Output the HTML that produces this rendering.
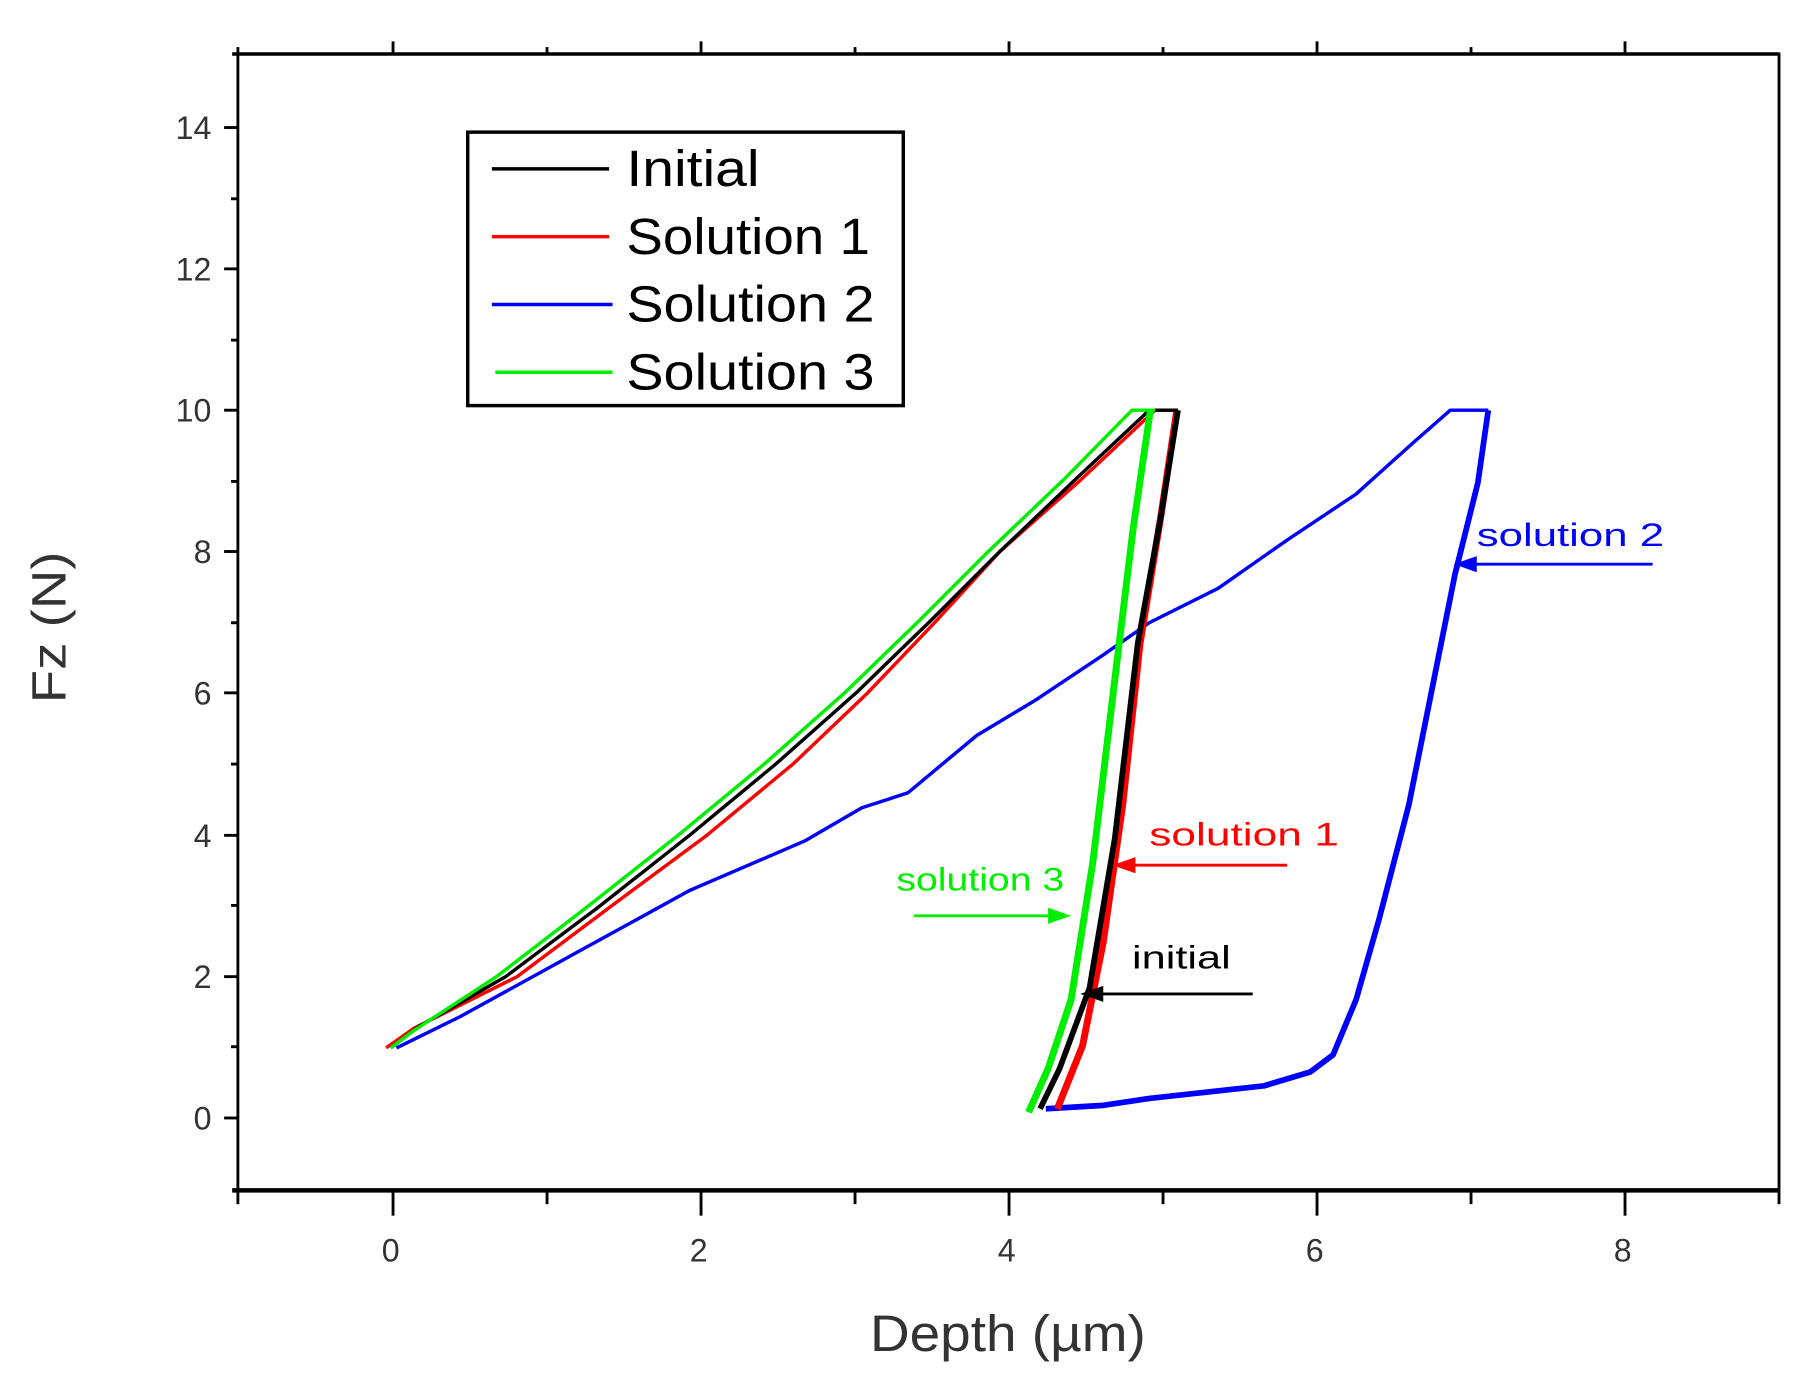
<!DOCTYPE html>
<html><head><style>html,body{margin:0;padding:0;background:#fff}svg{display:block}</style></head><body>
<svg width="1802" height="1388" viewBox="0 0 1568 1208" preserveAspectRatio="none" xmlns="http://www.w3.org/2000/svg" font-family="Liberation Sans, sans-serif">
<rect x="0" y="0" width="1568" height="1208" fill="#fff"/>
<g stroke="#000" stroke-width="3" fill="none">
<rect x="207" y="47" width="1341" height="989" stroke-width="2.5"/>
<line x1="202" y1="1036" x2="1548" y2="1036" stroke-width="4"/>
<line x1="202" y1="47" x2="1548" y2="47"/>
</g>
<g stroke="#000" stroke-width="2.5">
<line x1="207" y1="1036" x2="207" y2="1048"/><line x1="342" y1="1036" x2="342" y2="1058"/><line x1="476" y1="1036" x2="476" y2="1048"/><line x1="610" y1="1036" x2="610" y2="1058"/><line x1="744" y1="1036" x2="744" y2="1048"/><line x1="878" y1="1036" x2="878" y2="1058"/><line x1="1012" y1="1036" x2="1012" y2="1048"/><line x1="1146" y1="1036" x2="1146" y2="1058"/><line x1="1280" y1="1036" x2="1280" y2="1048"/><line x1="1414" y1="1036" x2="1414" y2="1058"/><line x1="1548" y1="1036" x2="1548" y2="1048"/>
<line x1="207" y1="47" x2="207" y2="41"/><line x1="342" y1="47" x2="342" y2="36"/><line x1="476" y1="47" x2="476" y2="41"/><line x1="610" y1="47" x2="610" y2="36"/><line x1="744" y1="47" x2="744" y2="41"/><line x1="878" y1="47" x2="878" y2="36"/><line x1="1012" y1="47" x2="1012" y2="41"/><line x1="1146" y1="47" x2="1146" y2="36"/><line x1="1280" y1="47" x2="1280" y2="41"/><line x1="1414" y1="47" x2="1414" y2="36"/>
<line x1="195" y1="973" x2="207" y2="973"/><line x1="201" y1="911" x2="207" y2="911"/><line x1="195" y1="850" x2="207" y2="850"/><line x1="201" y1="788" x2="207" y2="788"/><line x1="195" y1="727" x2="207" y2="727"/><line x1="201" y1="665" x2="207" y2="665"/><line x1="195" y1="603" x2="207" y2="603"/><line x1="201" y1="542" x2="207" y2="542"/><line x1="195" y1="480" x2="207" y2="480"/><line x1="201" y1="419" x2="207" y2="419"/><line x1="195" y1="357" x2="207" y2="357"/><line x1="201" y1="296" x2="207" y2="296"/><line x1="195" y1="234" x2="207" y2="234"/><line x1="201" y1="173" x2="207" y2="173"/><line x1="195" y1="111" x2="207" y2="111"/>
</g>
<g fill="#333" font-size="28" text-anchor="end">
<text x="184" y="983">0</text><text x="184" y="860">2</text><text x="184" y="737">4</text><text x="184" y="613">6</text><text x="184" y="490">8</text><text x="184" y="367">10</text><text x="184" y="244">12</text><text x="184" y="121">14</text>
</g>
<g fill="#333" font-size="28" text-anchor="middle">
<text x="340" y="1098">0</text><text x="608" y="1098">2</text><text x="876" y="1098">4</text><text x="1144" y="1098">6</text><text x="1412" y="1098">8</text>
</g>
<text x="757" y="1176" font-size="44" fill="#333" textLength="240" lengthAdjust="spacingAndGlyphs">Depth (µm)</text>
<text transform="translate(57,612) rotate(-90)" font-size="42" fill="#333" textLength="132" lengthAdjust="spacingAndGlyphs">Fz (N)</text>
<g fill="none" stroke-linejoin="round">
<polyline stroke="#0000ff" stroke-width="3" points="345,912 400,885 500,830 600,775 700,732 750,703 790,690 850,640 900,610 960,570 1000,542 1060,512 1120,470 1180,430 1230,385 1262,357 1295,357"/>
<polyline stroke="#0000ff" stroke-width="5" points="1295,357 1286,420 1266,500 1246,600 1226,700 1200,800 1180,870 1160,918 1140,933 1100,945 1000,956 960,962 910,965"/>
<polyline stroke="#ff0000" stroke-width="3" points="336,912 360,895 450,850 530,790 615,727 690,665 755,603 815,540 870,480 940,418 1005,357 1025,357"/>
<polyline stroke="#ff0000" stroke-width="6" points="1024,357 1010,450 992,560 977,700 960,820 942,910 920,965"/>
<polyline stroke="#000" stroke-width="3" points="340,912 365,893 440,850 520,790 600,727 675,665 745,603 810,540 870,480 935,418 1000,357 1025,357"/>
<polyline stroke="#000" stroke-width="5" points="1025,357 1010,450 990,560 970,730 948,860 922,930 905,965"/>
<polyline stroke="#00ee00" stroke-width="3" points="340,912 360,897 432,850 510,790 590,727 665,665 735,603 800,540 860,480 925,418 985,357 1005,357"/>
<polyline stroke="#00ee00" stroke-width="6" points="1001,357 986,460 969,600 951,750 932,870 912,930 895,968"/>
</g>
<rect x="407" y="115" width="379" height="238" fill="#fff" stroke="#000" stroke-width="3"/>
<g stroke-width="3">
<line x1="428" y1="147" x2="530" y2="147" stroke="#000"/>
<line x1="428" y1="206" x2="530" y2="206" stroke="#ff0000"/>
<line x1="428" y1="265" x2="533" y2="265" stroke="#0000ff"/>
<line x1="431" y1="324" x2="533" y2="324" stroke="#00ee00"/>
</g>
<g font-size="44" fill="#000">
<text x="545" y="162" textLength="116" lengthAdjust="spacingAndGlyphs">Initial</text>
<text x="545" y="221" textLength="212" lengthAdjust="spacingAndGlyphs">Solution 1</text>
<text x="545" y="280" textLength="216" lengthAdjust="spacingAndGlyphs">Solution 2</text>
<text x="545" y="339" textLength="216" lengthAdjust="spacingAndGlyphs">Solution 3</text>
</g>
<g font-size="28">
<text x="1285" y="475" fill="#0000ff" textLength="163" lengthAdjust="spacingAndGlyphs">solution 2</text>
<text x="1000" y="736" fill="#ff0000" textLength="165" lengthAdjust="spacingAndGlyphs">solution 1</text>
<text x="780" y="775" fill="#00ee00" textLength="146" lengthAdjust="spacingAndGlyphs">solution 3</text>
<text x="985" y="843" fill="#000" textLength="86" lengthAdjust="spacingAndGlyphs">initial</text>
</g>
<g stroke-width="2.5">
<line x1="1438" y1="491" x2="1275" y2="491" stroke="#0000ff"/><polygon points="1265,491 1285,484 1285,498" fill="#0000ff"/>
<line x1="1120" y1="753" x2="978" y2="753" stroke="#ff0000"/><polygon points="968,753 988,746 988,760" fill="#ff0000"/>
<line x1="795" y1="797" x2="920" y2="797" stroke="#00ee00"/><polygon points="932,797 912,790 912,804" fill="#00ee00"/>
<line x1="1090" y1="865" x2="950" y2="865" stroke="#000"/><polygon points="940,865 960,858 960,872" fill="#000"/>
</g>
</svg>
</body></html>
